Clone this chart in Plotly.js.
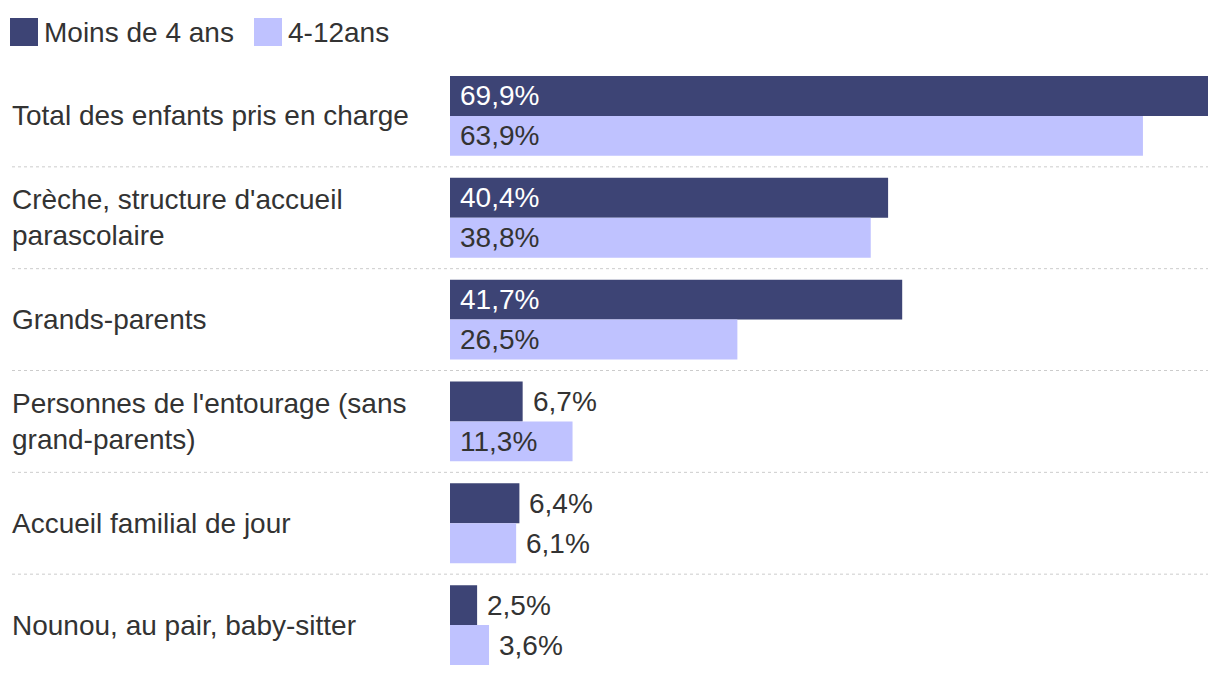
<!DOCTYPE html>
<html>
<head>
<meta charset="utf-8">
<script src="https://cdn.plot.ly/plotly-3.0.1.min.js"></script>
<style>html,body{margin:0;padding:0;background:#fff;}#chart{width:1220px;height:676px;}</style>
</head>
<body>
<div id="chart"></div>
<script>
// ---- Data ----
var categories = [
  "Total des enfants pris en charge",
  "Crèche, structure d'accueil<br>parascolaire",
  "Grands-parents",
  "Personnes de l'entourage (sans<br>grand-parents)",
  "Accueil familial de jour",
  "Nounou, au pair, baby-sitter"
];
var seriesNames = ["Moins de 4 ans", "4-12ans"];
var moins4 = [69.9, 40.4, 41.7, 6.7, 6.4, 2.5];
var ans4_12 = [63.9, 38.8, 26.5, 11.3, 6.1, 3.6];

// ---- Style / layout ----
var W = 1220, H = 676;
var L = 450, R = 12, T = 65, B = 0;
var PW = W - L - R, PH = H - T - B;
var colors = ["#3d4475", "#bfc2ff"];
var textColor = "#333333";
var FONT = "Liberation Sans, Arial, sans-serif";
var FS = 28;

function px2x(px){ return (px - L) / PW; }
function py2y(py){ return 1 - (py - T) / PH; }
function fmt(v){ return v.toFixed(1).replace('.', ',') + '%'; }

var series = [moins4, ans4_12];
var traces = series.map(function(vals, i){
  return {
    type: 'bar', orientation: 'h', name: seriesNames[i],
    y: categories, x: vals,
    marker: {color: colors[i], line: {width: 0}},
    hoverinfo: 'skip', showlegend: false
  };
});

var annotations = [];
var shapes = [];

// Category labels
categories.forEach(function(c){
  annotations.push({
    xref: 'paper', yref: 'y', x: px2x(12), y: c,
    xanchor: 'left', yanchor: 'middle', align: 'left',
    text: c, showarrow: false, borderpad: 0, borderwidth: 0,
    font: {family: FONT, size: FS, color: textColor}
  });
});

// Value labels
series.forEach(function(vals, si){
  vals.forEach(function(v, ci){
    var inside = v >= 10;
    annotations.push({
      xref: 'x', yref: 'y', x: inside ? 0 : v, y: categories[ci],
      xanchor: 'left', yanchor: 'middle',
      xshift: 10, yshift: si === 0 ? 20 : -20,
      text: fmt(v), showarrow: false, borderpad: 0, borderwidth: 0,
      font: {family: FONT, size: FS, color: (inside && si === 0) ? '#ffffff' : textColor}
    });
  });
});

// Separators
for (var i = 0; i < categories.length - 1; i++) {
  shapes.push({
    type: 'line', xref: 'paper', yref: 'y',
    x0: px2x(12), x1: 1, y0: i + 0.5, y1: i + 0.5,
    line: {color: '#cccccc', width: 1, dash: 'dot'}
  });
}

// Legend (manual)
var legendItems = [{x0: 10, x1: 38, tx: 44}, {x0: 254, x1: 282, tx: 288}];
legendItems.forEach(function(it, i){
  shapes.push({
    type: 'rect', xref: 'paper', yref: 'paper',
    x0: px2x(it.x0), x1: px2x(it.x1), y0: py2y(18), y1: py2y(46),
    fillcolor: colors[i], line: {width: 0}
  });
  annotations.push({
    xref: 'paper', yref: 'paper', x: px2x(it.tx), y: py2y(32),
    xanchor: 'left', yanchor: 'middle', text: seriesNames[i],
    showarrow: false, borderpad: 0, borderwidth: 0,
    font: {family: FONT, size: FS, color: textColor}
  });
});

var layout = {
  width: W, height: H,
  margin: {l: L, r: R, t: T, b: B, pad: 0},
  paper_bgcolor: '#ffffff', plot_bgcolor: '#ffffff',
  barmode: 'group', bargap: 0.2157, bargroupgap: 0,
  showlegend: false,
  xaxis: {range: [0, 69.9], visible: false, fixedrange: true},
  yaxis: {type: 'category', autorange: 'reversed', visible: false, fixedrange: true},
  annotations: annotations, shapes: shapes,
  font: {family: FONT, color: textColor}
};

Plotly.newPlot('chart', traces, layout, {displayModeBar: false, staticPlot: true});
</script>
</body>
</html>
